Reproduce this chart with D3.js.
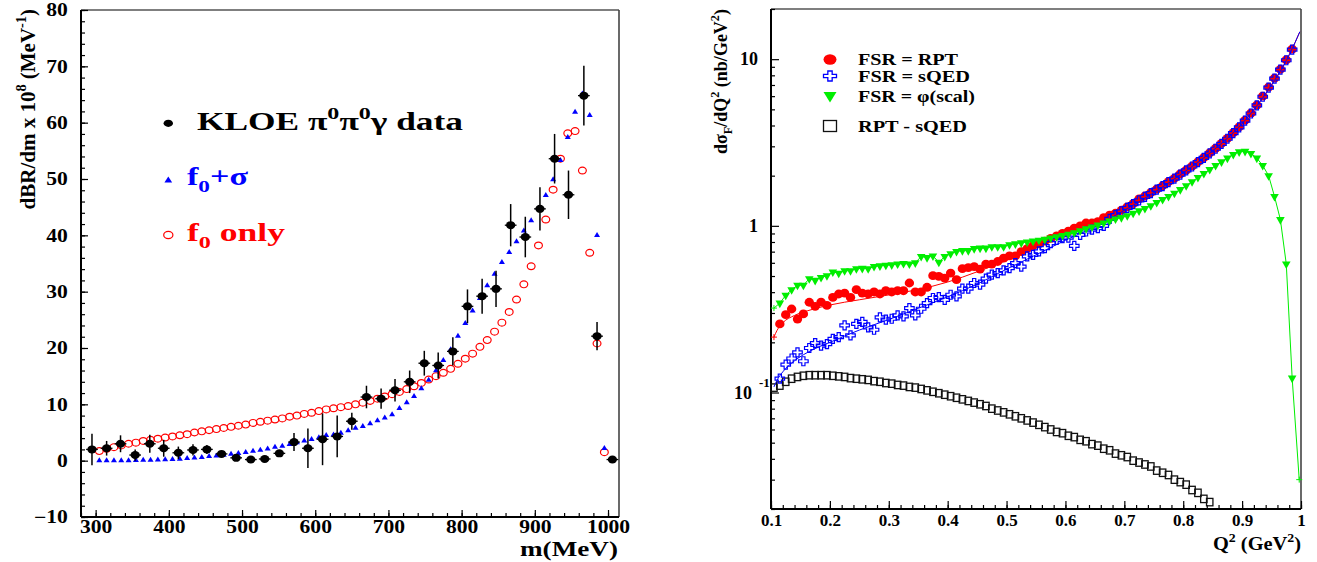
<!DOCTYPE html>
<html>
<head>
<meta charset="utf-8">
<script src="https://cdn.jsdelivr.net/npm/d3@7"></script>
<style>
  body { margin: 0; background: #fff; }
  svg text { font-family: "Liberation Serif", "Times New Roman", serif; font-weight: bold; }
</style>
</head>
<body>
<svg id="chart" width="1317" height="562"></svg>
<script>
// ---------------- left panel data ----------------
const massTicks = [300, 400, 500, 600, 700, 800, 900, 1000];
const brTicks = [-10, 0, 10, 20, 30, 40, 50, 60, 70, 80];

const kloeMass = [295,315,334,354,374,393,413,433,452,472,492,512,531,551,571,590,610,630,650,670,690,709,729,749,768,788,808,828,847,867,887,907,927,946,967,985,1006];
const kloeVal = [2.0,2.2,3.0,1.0,3.0,2.2,1.4,1.9,2.0,1.2,0.5,0.2,0.3,1.3,3.3,2.2,3.8,4.3,7.0,11.3,11.0,12.5,14.0,17.3,16.9,19.4,27.4,29.2,30.5,41.8,39.7,44.7,53.6,47.2,64.8,22.1,0.2];
const kloeErr = [2.8,1.3,1.5,1.0,1.6,1.5,1.1,1.0,0.8,0.4,0.4,0.3,0.3,0.4,1.6,3.5,4.6,3.7,1.5,2.0,1.8,2.0,2.0,2.2,2.3,2.5,3.0,3.1,3.2,3.75,3.6,3.85,4.4,4.3,5.3,2.5,0.3];

const modelMass = [305,315,325,335,345,355,365,375,385,395,405,415,425,435,445,455,465,475,485,495,
  505,515,525,535,545,555,565,575,585,595,605,615,625,635,645,655,665,675,685,695,
  705,715,725,735,745,755,765,775,785,795,805,815,825,835,845,855,865,875,885,895,
  905,915,925,935,945,955,965,975,985,995];
const f0Only = [1.7,2.1,2.4,2.7,3.0,3.2,3.5,3.7,3.9,4.1,4.3,4.5,4.7,5.0,5.2,5.4,5.6,5.8,6.0,6.2,
  6.4,6.7,6.9,7.1,7.3,7.5,7.8,8.0,8.3,8.5,8.8,9.1,9.3,9.5,9.7,10.0,10.3,10.6,11.0,11.4,
  11.8,12.2,12.7,13.2,13.8,14.4,15.0,15.6,16.3,17.2,18.1,19.0,20.2,21.4,22.9,24.5,26.4,28.6,31.3,34.5,
  38.2,42.8,48.1,53.6,58.1,58.5,51.5,36.9,20.8,1.5];
const f0Sigma = [0.0,0.0,0.0,0.0,0.0,0.05,0.1,0.1,0.15,0.2,0.25,0.3,0.4,0.5,0.6,0.75,0.85,1.0,1.15,1.3,
  1.5,1.7,1.9,2.1,2.4,2.6,2.9,3.2,3.5,3.8,4.1,4.5,4.6,4.9,5.35,5.8,6.1,6.6,7.1,7.6,
  8.2,9.3,10.3,11.4,12.8,14.3,16.0,17.8,19.7,22.1,24.4,26.6,28.8,31.1,33.1,35.2,37.0,38.9,40.8,42.6,
  44.8,47.1,49.9,53.3,57.4,61.9,65.1,61.3,40.0,2.2];

// ---------------- right panel data ----------------
const q2Ticks = [0.1, 0.2, 0.3, 0.4, 0.5, 0.6, 0.7, 0.8, 0.9, 1];
const xsecTicks = [1, 10];

const q2Grid = [0.115,0.125,0.135,0.145,0.155,0.165,0.175,0.185,0.195,0.205,0.215,0.225,0.235,0.245,0.255,0.265,0.275,0.285,0.295,0.305,
  0.315,0.325,0.335,0.345,0.355,0.365,0.375,0.385,0.395,0.405,0.415,0.425,0.435,0.445,0.455,0.465,0.475,0.485,0.495,0.505,
  0.515,0.525,0.535,0.545,0.555,0.565,0.575,0.585,0.595,0.605,0.615,0.625,0.635,0.645,0.655,0.665,0.675,0.685,0.695,0.705,
  0.715,0.725,0.735,0.745,0.755,0.765,0.775,0.785,0.795,0.805,0.815,0.825,0.835,0.845,0.855,0.865,0.875,0.885,0.895,0.905,
  0.915,0.925,0.935,0.945,0.955,0.965,0.975,0.985];
const fsrRPT = [0.258,0.293,0.317,0.276,0.296,0.348,0.329,0.349,0.333,0.372,0.390,0.395,0.372,0.414,0.395,0.390,0.401,0.390,0.408,0.401,
  0.408,0.408,0.454,0.401,0.401,0.428,0.502,0.497,0.486,0.521,0.475,0.553,0.562,0.570,0.55,0.590,0.59,0.611,0.641,0.66,
  0.66,0.70,0.73,0.76,0.78,0.81,0.84,0.87,0.90,0.93,0.97,1.00,1.04,1.04,1.06,1.12,1.16,1.19,1.24,1.30,
  1.36,1.45,1.51,1.58,1.66,1.74,1.84,1.93,2.05,2.16,2.28,2.42,2.57,2.74,2.92,3.12,3.35,3.62,3.92,4.30,
  4.75,5.30,6.00,6.80,7.70,8.70,9.90,11.5];
const fsrSQED = [0.121,0.147,0.160,0.174,0.154,0.185,0.198,0.191,0.195,0.210,0.215,0.253,0.220,0.258,0.265,0.246,0.238,0.282,0.274,0.277,
  0.290,0.286,0.321,0.290,0.318,0.344,0.369,0.373,0.360,0.386,0.377,0.420,0.420,0.454,0.444,0.482,0.509,0.521,0.540,0.558,
  0.598,0.570,0.655,0.670,0.702,0.735,0.787,0.824,0.843,0.850,0.758,0.883,0.925,0.950,0.968,1.00,1.10,1.16,1.22,1.28,
  1.35,1.42,1.49,1.57,1.65,1.73,1.83,1.92,2.03,2.15,2.27,2.41,2.56,2.72,2.90,3.10,3.33,3.60,3.90,4.28,
  4.72,5.28,5.95,6.75,7.65,8.65,9.85,11.4];
const fsrScal = [0.344,0.383,0.414,0.44,0.44,0.482,0.471,0.49,0.502,0.529,0.52,0.538,0.538,0.553,0.556,0.553,0.570,0.575,0.58,0.583,
  0.59,0.594,0.59,0.60,0.655,0.645,0.66,0.605,0.655,0.68,0.702,0.71,0.71,0.73,0.735,0.735,0.75,0.75,0.75,0.77,
  0.78,0.79,0.80,0.81,0.82,0.83,0.845,0.86,0.875,0.89,0.91,0.935,0.96,0.985,1.01,1.04,1.07,1.10,1.12,1.15,
  1.19,1.23,1.27,1.32,1.38,1.44,1.50,1.57,1.65,1.74,1.84,1.95,2.06,2.18,2.30,2.42,2.55,2.68,2.78,2.80,
  2.72,2.55,2.30,2.00,1.50,1.09,0.59,0.122];

const diffQ2 = [0.105,0.115,0.125,0.135,0.145,0.155,0.165,0.175,0.185,0.195,0.205,0.215,0.225,0.235,0.245,0.255,0.265,0.275,0.285,0.295,
  0.305,0.315,0.325,0.335,0.345,0.355,0.365,0.375,0.385,0.395,0.405,0.415,0.425,0.435,0.445,0.455,0.465,0.475,0.485,0.495,
  0.505,0.515,0.525,0.535,0.545,0.555,0.565,0.575,0.585,0.595,0.605,0.615,0.625,0.635,0.645,0.655,0.665,0.675,0.685,0.695,
  0.705,0.715,0.725,0.735,0.745,0.755,0.765,0.775,0.785,0.795,0.805,0.815,0.825,0.835,0.845];
const rptMinusSqed = [0.107,0.110,0.116,0.121,0.124,0.126,0.127,0.127,0.127,0.127,0.126,0.125,0.124,0.122,0.121,0.120,0.119,0.117,0.116,0.114,
  0.113,0.111,0.110,0.108,0.107,0.105,0.103,0.101,0.099,0.097,0.095,0.093,0.091,0.089,0.087,0.085,0.083,0.080,0.078,0.076,
  0.074,0.072,0.070,0.068,0.066,0.064,0.062,0.060,0.058,0.057,0.055,0.054,0.052,0.051,0.049,0.048,0.046,0.045,0.043,0.042,
  0.041,0.039,0.038,0.037,0.036,0.034,0.033,0.032,0.030,0.029,0.028,0.026,0.025,0.023,0.022];

// smooth model curves drawn under the points
const curveQ2 = [0.105,0.11,0.12,0.14,0.17,0.2,0.25,0.3,0.35,0.4,0.45,0.5,0.55,0.6,0.65,0.7,0.75,0.8,0.85,0.9,0.95,0.97,0.99,0.998];
const rptCurve = [0.215,0.235,0.262,0.29,0.315,0.335,0.36,0.385,0.415,0.46,0.53,0.62,0.74,0.88,1.04,1.26,1.58,2.08,2.82,4.1,7.0,9.1,12.6,14.6];
const sqedCurve = [0.108,0.118,0.133,0.155,0.18,0.2,0.237,0.274,0.32,0.375,0.447,0.55,0.67,0.82,0.99,1.24,1.58,2.08,2.82,4.1,7.0,9.1,12.6,14.6];
const scalEndQ2 = [0.105, 0.997];
const scalEndVal = [0.321, 0.030];

const RED = "#ff0000", BLUE = "#0000ff", GREEN = "#00ee00";
const SERIF = '"Liberation Serif", "Times New Roman", serif';

const svg = d3.select("#chart");

// text with super/subscripts
function label(g, x, y, parts, size, opts = {}) {
  const t = g.append("text").attr("x", x).attr("y", y).attr("font-size", size)
    .attr("font-family", SERIF).attr("font-weight", "bold")
    .attr("fill", opts.fill || "#000").attr("text-anchor", opts.anchor || "start");
  let shift = 0;
  parts.forEach(p => {
    const [str, kind] = Array.isArray(p) ? p : [p, null];
    const off = kind === "sup" ? -0.42 * size : kind === "sub" ? 0.28 * size : 0;
    t.append("tspan").attr("dy", off - shift).attr("font-size", kind ? size * 0.68 : size).text(str);
    shift = off;
  });
  if (opts.width) t.attr("textLength", opts.width).attr("lengthAdjust", "spacingAndGlyphs");
  if (opts.rotate) t.attr("transform", `rotate(-90, ${x}, ${y})`);
  return t;
}

const triPath = (w, h, down) => down
  ? `M${-w / 2},${-h / 3}L${w / 2},${-h / 3}L0,${2 * h / 3}Z`
  : `M0,${-2 * h / 3}L${w / 2},${h / 3}L${-w / 2},${h / 3}Z`;

function crossPath(w, h) {
  const a = w / 2, b = h / 2, s = w / 6, t = h / 6;
  return `M${-s},${-b}H${s}V${-t}H${a}V${t}H${s}V${b}H${-s}V${t}H${-a}V${-t}H${-s}Z`;
}

function styleAxis(ax, size, sx) {
  ax.attr("font-size", null).attr("font-family", null);
  ax.select(".domain").remove();
  ax.selectAll("line").attr("stroke", "#000").attr("stroke-width", 1.2);
  ax.selectAll("text").attr("font-size", size).attr("font-family", SERIF)
    .attr("font-weight", "bold").attr("fill", "#000");
  if (sx) ax.selectAll("text").attr("transform", `scale(${sx},1)`);
}

function frame(g, box) {
  g.append("line").attr("x1", box.left).attr("x2", box.right).attr("y1", box.top).attr("y2", box.top)
    .attr("stroke", "#555").attr("stroke-width", 1.4);
  g.append("line").attr("x1", box.right).attr("x2", box.right).attr("y1", box.top).attr("y2", box.bottom)
    .attr("stroke", "#444").attr("stroke-width", 1.6);
  g.append("line").attr("x1", box.left).attr("x2", box.left).attr("y1", box.top).attr("y2", box.bottom)
    .attr("stroke", "#000").attr("stroke-width", 2);
  g.append("line").attr("x1", box.left).attr("x2", box.right).attr("y1", box.bottom).attr("y2", box.bottom)
    .attr("stroke", "#000").attr("stroke-width", 2);
}

// ================= left panel =================
const L = { left: 81, right: 619, top: 10, bottom: 517 };
const xL = d3.scaleLinear().domain([280, 1015]).range([L.left, L.right]);
const yL = d3.scaleLinear().domain([-10, 80]).range([L.bottom, L.top]);
const gL = svg.append("g");

frame(gL, L);

let ax = gL.append("g").attr("transform", `translate(${L.left},0)`)
  .call(d3.axisLeft(yL).tickValues(d3.range(-10, 80.1, 2)).tickSize(-4).tickFormat(""));
styleAxis(ax, 18);
ax = gL.append("g").attr("transform", `translate(${L.left},0)`)
  .call(d3.axisLeft(yL).tickValues(brTicks).tickSizeInner(-7).tickSizeOuter(0).tickPadding(11).tickFormat(d3.format("d")));
styleAxis(ax, 18, 1.2);

ax = gL.append("g").attr("transform", `translate(0,${L.bottom})`)
  .call(d3.axisBottom(xL).tickValues(d3.range(280, 1015, 20)).tickSize(-4).tickFormat(""));
styleAxis(ax, 18);
ax = gL.append("g").attr("transform", `translate(0,${L.bottom})`)
  .call(d3.axisBottom(xL).tickValues(massTicks).tickSizeInner(-7).tickSizeOuter(0).tickPadding(3).tickFormat(d3.format("d")));
styleAxis(ax, 18, 1.2);

// f0 only: open red circles
gL.append("g").selectAll("ellipse").data(modelMass).join("ellipse")
  .attr("cx", d => xL(d)).attr("cy", (d, i) => yL(f0Only[i]))
  .attr("rx", 3.9).attr("ry", 3.4).attr("fill", "none").attr("stroke", RED).attr("stroke-width", 1.2);

// f0 + sigma: blue triangles
gL.append("g").selectAll("path").data(modelMass).join("path")
  .attr("transform", (d, i) => `translate(${xL(d)},${yL(f0Sigma[i])})`)
  .attr("d", triPath(6, 5, false)).attr("fill", BLUE);

// KLOE data with error bars
const gData = gL.append("g");
gData.selectAll("line.ey").data(kloeMass).join("line").attr("class", "ey")
  .attr("x1", d => xL(d)).attr("x2", d => xL(d))
  .attr("y1", (d, i) => yL(kloeVal[i] - kloeErr[i])).attr("y2", (d, i) => yL(kloeVal[i] + kloeErr[i]))
  .attr("stroke", "#000").attr("stroke-width", 1.5);
gData.selectAll("line.ex").data(kloeMass).join("line").attr("class", "ex")
  .attr("x1", d => xL(d - 8)).attr("x2", d => xL(d + 8))
  .attr("y1", (d, i) => yL(kloeVal[i])).attr("y2", (d, i) => yL(kloeVal[i]))
  .attr("stroke", "#000").attr("stroke-width", 1.3);
gData.selectAll("ellipse").data(kloeMass).join("ellipse")
  .attr("cx", d => xL(d)).attr("cy", (d, i) => yL(kloeVal[i]))
  .attr("rx", 4.6).attr("ry", 4).attr("fill", "#000");

// left legend
gL.append("ellipse").attr("cx", 168.3).attr("cy", 123.3).attr("rx", 4.7).attr("ry", 3.6).attr("fill", "#000");
label(gL, 197, 129.5, ["KLOE \u03c0", ["0", "sup"], "\u03c0", ["0", "sup"], "\u03b3 data"], 26, { width: 266 });
gL.append("path").attr("transform", "translate(168.3,180.5)").attr("d", triPath(7.7, 6, false)).attr("fill", BLUE);
label(gL, 187, 184.5, ["f", ["0", "sub"], "+\u03c3"], 26, { fill: BLUE, width: 61 });
gL.append("ellipse").attr("cx", 168.3).attr("cy", 235).attr("rx", 4.6).attr("ry", 3.6)
  .attr("fill", "none").attr("stroke", RED).attr("stroke-width", 1.2);
label(gL, 187, 240.5, ["f", ["0", "sub"], " only"], 26, { fill: RED, width: 98 });

// left titles
label(gL, 618, 556, ["m(MeV)"], 20, { anchor: "end", width: 98 });
label(gL, 35, 9, ["dBR/dm x 10", ["8", "sup"], " (MeV", ["-1", "sup"], ")"], 21, { anchor: "end", rotate: true });

// ================= right panel =================
const R = { left: 771, right: 1301, top: 9, bottom: 509 };
const xR = d3.scaleLinear().domain([0.1, 1]).range([R.left, R.right]);
const yR = d3.scaleLog().domain([0.02, 20]).range([R.bottom, R.top]);
const gR = svg.append("g");

frame(gR, R);

const minorLog = [0.02, 0.03, 0.04, 0.05, 0.06, 0.07, 0.08, 0.09, 0.2, 0.3, 0.4, 0.5, 0.6, 0.7, 0.8, 0.9, 2, 3, 4, 5, 6, 7, 8, 9, 20];
ax = gR.append("g").attr("transform", `translate(${R.left},0)`)
  .call(d3.axisLeft(yR).tickValues(minorLog).tickSize(-4).tickFormat(""));
styleAxis(ax, 18);
ax = gR.append("g").attr("transform", `translate(${R.left},0)`)
  .call(d3.axisLeft(yR).tickValues([0.1].concat(xsecTicks)).tickSizeInner(-8).tickSizeOuter(0).tickPadding(13)
    .tickFormat(d => d === 0.1 ? "" : String(d)));
styleAxis(ax, 18);
// 10^-1 label, ROOT style
label(gR, 752, yR(0.1) + 6, ["10"], 18, { anchor: "end" });
label(gR, 759, yR(0.1) - 6, ["-1"], 13);

ax = gR.append("g").attr("transform", `translate(0,${R.bottom})`)
  .call(d3.axisBottom(xR).tickValues(d3.range(0.1, 1.001, 0.02)).tickSize(-4).tickFormat(""));
styleAxis(ax, 17);
ax = gR.append("g").attr("transform", `translate(0,${R.bottom})`)
  .call(d3.axisBottom(xR).tickValues(q2Ticks).tickSizeInner(-8).tickSizeOuter(0).tickPadding(5)
    .tickFormat(d => d === 1 ? "1" : d.toFixed(1)));
styleAxis(ax, 17);

// RPT - sQED squares
gR.append("g").selectAll("rect").data(diffQ2).join("rect")
  .attr("x", d => xR(d) - 3.2).attr("y", (d, i) => yR(rptMinusSqed[i]) - 3.7)
  .attr("width", 6.4).attr("height", 7.4)
  .attr("fill", "none").attr("stroke", "#111").attr("stroke-width", 1.3);

const lineR = (vals, xs) => d3.line().x((d, i) => xR(xs[i])).y(d => yR(d)).curve(d3.curveMonotoneX)(vals);
const plusMark = (g, x, y, color) => g.append("path")
  .attr("d", `M${x - 3},${y}H${x + 3}M${x},${y - 3}V${y + 3}`).attr("stroke", color).attr("stroke-width", 1);

// FSR = RPT
gR.append("g").selectAll("ellipse").data(q2Grid).join("ellipse")
  .attr("cx", d => xR(d)).attr("cy", (d, i) => yR(fsrRPT[i]))
  .attr("rx", 4.7).attr("ry", 4.4).attr("fill", RED);
gR.append("path").attr("d", lineR(rptCurve, curveQ2)).attr("fill", "none").attr("stroke", RED).attr("stroke-width", 1);
plusMark(gR, xR(curveQ2[0]), yR(rptCurve[0]), RED);

// FSR = sQED
gR.append("g").selectAll("path").data(q2Grid).join("path")
  .attr("transform", (d, i) => `translate(${xR(d)},${yR(fsrSQED[i])})`)
  .attr("d", crossPath(9.5, 9)).attr("fill", "none").attr("stroke", BLUE).attr("stroke-width", 1.2);
gR.append("path").attr("d", lineR(sqedCurve, curveQ2)).attr("fill", "none").attr("stroke", BLUE).attr("stroke-width", 1);

// FSR = phi(scal)
gR.append("g").selectAll("path").data(q2Grid).join("path")
  .attr("transform", (d, i) => `translate(${xR(d)},${yR(fsrScal[i])})`)
  .attr("d", triPath(8.6, 7.6, true)).attr("fill", GREEN);
const scalQ = [scalEndQ2[0]].concat(q2Grid, [scalEndQ2[1]]);
const scalV = [scalEndVal[0]].concat(fsrScal, [scalEndVal[1]]);
gR.append("path").attr("d", d3.line().x((d, i) => xR(scalQ[i])).y(d => yR(d))(scalV))
  .attr("fill", "none").attr("stroke", GREEN).attr("stroke-width", 1);
plusMark(gR, xR(scalEndQ2[0]), yR(scalEndVal[0]), GREEN);
plusMark(gR, xR(scalEndQ2[1]), yR(scalEndVal[1]), GREEN);

// right legend
gR.append("ellipse").attr("cx", 830).attr("cy", 59.5).attr("rx", 6.5).attr("ry", 5.2).attr("fill", RED);
label(gR, 858, 65, ["FSR = RPT"], 16, { width: 100 });
gR.append("path").attr("transform", "translate(830,76)").attr("d", crossPath(13, 10))
  .attr("fill", "none").attr("stroke", BLUE).attr("stroke-width", 1.3);
label(gR, 858, 81.5, ["FSR = sQED"], 16, { width: 112 });
gR.append("path").attr("transform", "translate(830,95.5)").attr("d", triPath(13, 10.5, true)).attr("fill", GREEN);
label(gR, 858, 101.5, ["FSR = \u03c6(scal)"], 16, { width: 117 });
gR.append("rect").attr("x", 823.5).attr("y", 120.5).attr("width", 13).attr("height", 11)
  .attr("fill", "none").attr("stroke", "#111").attr("stroke-width", 1.3);
label(gR, 858, 131.7, ["RPT - sQED"], 16, { width: 109 });

// right titles
label(gR, 1301, 549.5, ["Q", ["2", "sup"], " (GeV", ["2", "sup"], ")"], 19, { anchor: "end", width: 88 });
label(gR, 727, 9, ["d\u03c3", ["F", "sub"], "/dQ", ["2", "sup"], " (nb/GeV", ["2", "sup"], ")"], 18, { anchor: "end", rotate: true });
</script>
</body>
</html>
